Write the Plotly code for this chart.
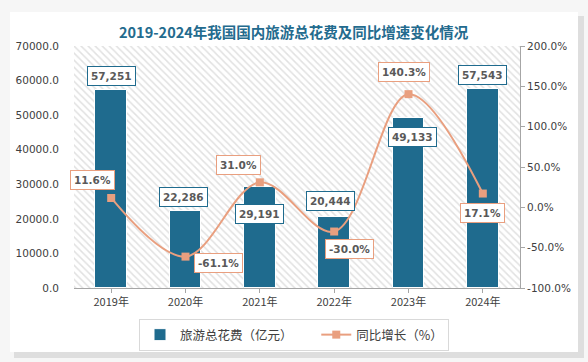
import plotly.graph_objects as go

years = ["2019年", "2020年", "2021年", "2022年", "2023年", "2024年"]
spend = [57251, 22286, 29191, 20444, 49133, 57543]
growth = [11.6, -61.1, 31.0, -30.0, 140.3, 17.1]
spend_labels = ["57,251", "22,286", "29,191", "20,444", "49,133", "57,543"]
growth_labels = ["11.6%", "-61.1%", "31.0%", "-30.0%", "140.3%", "17.1%"]

# label offsets (pixels) relative to the data point
spend_shift = [(0, 14), (-2, 14), (0, -27), (-4, 16), (4, -19), (0, 14)]
growth_shift = [(-19, 18), (33, -6), (-21, 17), (15, -17), (-5, 22), (0, -19)]

xs = list(range(len(years)))
BAR = "#1f6b8e"
LINE = "#e99f7f"
TXT = "#404040"

W, H = 588, 362
L, R, T, B = 74, 68, 46, 74
pw, ph = W - L - R, H - T - B

def px(x):
    return (x - L) / pw

def py(y):
    return (H - B - y) / ph

fig = go.Figure()

# hatched plot background
fig.add_trace(go.Bar(
    x=[(xs[0] + xs[-1]) / 2], y=[70000], width=[len(xs)],
    marker=dict(color="white", line=dict(width=0),
                pattern=dict(shape="\\", fgcolor="#c4c4c4", bgcolor="white",
                             size=5, solidity=0.3, fillmode="overlay")),
    showlegend=False, hoverinfo="skip", yaxis="y",
))

fig.add_trace(go.Bar(
    x=xs, y=spend, width=0.43, name="旅游总花费（亿元）\u2003\u2002",
    marker=dict(color=BAR, line=dict(color="white", width=1)),
    yaxis="y",
))

fig.add_trace(go.Scatter(
    x=xs, y=growth, name="同比增长（%）", mode="lines+markers",
    line=dict(color=LINE, width=2, shape="spline", smoothing=1.0),
    marker=dict(symbol="square", size=8, color=LINE),
    yaxis="y2",
))

annotations = []
for i, (v, t) in enumerate(zip(spend, spend_labels)):
    dx, dy = spend_shift[i]
    annotations.append(dict(
        x=xs[i], y=v, xref="x", yref="y", text=t, showarrow=False,
        xshift=dx, yshift=dy, bgcolor="white", bordercolor=BAR, borderwidth=1,
        borderpad=3, font=dict(family="DejaVu Sans", size=10.5, color="#595959", weight="bold"),
    ))
for i, (v, t) in enumerate(zip(growth, growth_labels)):
    dx, dy = growth_shift[i]
    annotations.append(dict(
        x=xs[i], y=v, xref="x", yref="y2", text=t, showarrow=False,
        xshift=dx, yshift=dy, bgcolor="white", bordercolor=LINE, borderwidth=1,
        borderpad=3, font=dict(family="DejaVu Sans", size=10.5, color="#595959", weight="bold"),
    ))

annotations.append(dict(
    x=px(294), y=py(32), xref="paper", yref="paper", xanchor="center", yanchor="middle",
    text="<b>2019-2024年我国国内旅游总花费及同比增速变化情况</b>", showarrow=False,
    font=dict(family="Noto Sans CJK SC", size=14.5, color="#236b8e"),
))

shapes = [
    dict(type="rect", xref="paper", yref="paper", layer="below",
         x0=px(14), x1=px(584), y0=py(358), y1=py(16),
         fillcolor="#dedede", line=dict(width=0)),
    dict(type="rect", xref="paper", yref="paper", layer="below",
         x0=px(10), x1=px(578), y0=py(352), y1=py(12),
         fillcolor="white", line=dict(width=0)),
]

fig.update_layout(
    width=W, height=H,
    margin=dict(l=L, r=R, t=T, b=B, autoexpand=False),
    paper_bgcolor="#f6f6f6", plot_bgcolor="white",
    barmode="overlay", bargap=0,
    font=dict(family="DejaVu Sans", color=TXT, size=10),
    xaxis=dict(range=[-0.5, len(xs) - 0.5], tickvals=xs, ticktext=years,
               showgrid=False, zeroline=False, showline=True, linecolor="#a6a6a6",
               linewidth=1, ticks="outside", ticklen=4, tickcolor="#a6a6a6",
               tickfont=dict(family="Noto Sans CJK SC", size=11, color=TXT)),
    yaxis=dict(range=[0, 70000], tickvals=[0, 10000, 20000, 30000, 40000, 50000, 60000, 70000],
               tickformat=".1f", showgrid=False, zeroline=False, showline=False,
               ticklabelstandoff=14, tickfont=dict(family="DejaVu Sans", size=10.5, color=TXT)),
    yaxis2=dict(range=[-100, 200], overlaying="y", side="right",
                tickvals=[-100, -50, 0, 50, 100, 150, 200],
                ticktext=["-100.0%", "-50.0%", "0.0%", "50.0%", "100.0%", "150.0%", "200.0%"],
                showgrid=False, zeroline=False, showline=True, linecolor="#a6a6a6", linewidth=1,
                ticks="outside", ticklen=4, tickcolor="#a6a6a6",
                tickfont=dict(family="DejaVu Sans", size=10.5, color=TXT)),
    legend=dict(orientation="h", x=px(294), xanchor="center", y=py(319), yanchor="top",
                bordercolor="#d9d9d9", borderwidth=1, bgcolor="white",
                font=dict(family="Noto Sans CJK SC", size=12.5, color=TXT),
                itemwidth=30, tracegroupgap=0),
    annotations=annotations,
    shapes=shapes,
    showlegend=True,
)

fig.write_html("out.html", config={"displayModeBar": False},
               post_script="document.body.style.margin='0';document.body.style.overflow='hidden';")
